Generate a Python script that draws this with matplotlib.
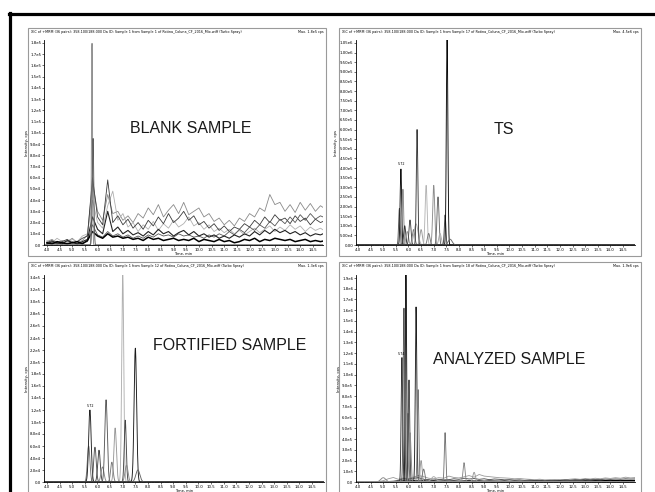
import matplotlib

matplotlib.use("Agg")
import matplotlib.pyplot as plt
import numpy as np

W, H = 655, 492

# time grid (min) of the hand-read noise traces
noise_t = np.round(np.arange(4.0, 15.01, 0.2), 1)

# BLANK SAMPLE: noise traces, in 1e3 cps
blank_a = [3, 5, 2, 4, 3, 6, 2, 4,
           9, 55, 30, 22, 45, 28, 30, 22, 26, 20,
           28, 24, 33, 27, 36, 25, 31, 36, 28, 38,
           27, 30, 33, 25, 28, 21, 24, 18, 22, 17,
           24, 21, 28, 25, 33, 30, 45, 36, 38, 30,
           36, 29, 38, 31, 37, 30, 35, 32]
blank_b = [2, 4, 1, 3, 5, 2, 3, 6,
           8, 60, 25, 18, 58, 20, 26, 18, 23, 15,
           20, 14, 22, 17, 25, 19, 28, 20, 24, 30,
           22, 26, 18, 21, 15, 19, 13, 17, 12, 16,
           14, 19, 16, 22, 18, 25, 20, 27, 22, 24,
           19, 26, 21, 24, 18, 23, 20, 22]
blank_c = [4, 2, 6, 3, 2, 5, 3, 8,
           10, 40, 20, 15, 35, 48, 22, 28, 16, 20,
           12, 18, 14, 21, 13, 19, 15, 22, 16, 19,
           25, 17, 20, 14, 18, 12, 15, 11, 14, 10,
           13, 9, 12, 15, 11, 14, 17, 12, 16, 13,
           18, 14, 17, 12, 16, 13, 15, 12]
blank_d = [1, 3, 2, 1, 4, 2, 1, 3,
           5, 25, 14, 10, 30, 12, 16, 10, 13, 9,
           11, 8, 12, 9, 14, 10, 12, 8, 11, 13,
           9, 12, 8, 10, 7, 9, 6, 8, 6, 9,
           7, 10, 8, 12, 9, 13, 10, 14, 11, 13,
           10, 12, 9, 11, 8, 10, 9, 11]
blank_e = [2, 1, 3, 2, 1, 2, 3, 1,
           4, 12, 8, 6, 10, 7, 8, 6, 7, 5,
           6, 4, 7, 5, 6, 4, 5, 6, 4, 5,
           4, 6, 3, 5, 4, 3, 5, 3, 4, 2,
           3, 5, 4, 6, 3, 5, 4, 6, 5, 4,
           5, 3, 4, 5, 3, 4, 3, 4]
blank_f = [1, 2, 1, 2, 1, 3, 1, 2,
           3, 18, 9, 7, 12, 8, 10, 7, 9, 6,
           8, 6, 9, 7, 10, 8, 9, 7, 10, 8,
           9, 7, 8, 6, 9, 7, 10, 8, 12, 9,
           14, 11, 16, 13, 18, 15, 21, 17, 23, 19,
           25, 20, 27, 22, 28, 23, 26, 24]
blank_rt = [5.78, 5.82]
blank_height = [180000, 95000]
blank_sigma = [0.02, 0.03]

# TS
ts_rt = [5.64, 5.70, 5.78, 5.85, 5.95, 6.06, 6.20, 6.30, 6.34, 6.50, 6.70,
         6.80, 7.00, 7.17, 7.25, 7.45, 7.53, 7.65]
ts_height = [190000, 395000, 290000, 100000, 70000, 130000, 80000, 110000,
             600000, 80000, 310000, 60000, 310000, 250000, 60000, 156000,
             1100000, 30000]
ts_sigma = [0.03, 0.03, 0.03, 0.04, 0.05, 0.04, 0.05, 0.08, 0.03, 0.05,
            0.04, 0.05, 0.04, 0.04, 0.05, 0.03, 0.03, 0.08]

# FORTIFIED SAMPLE
fort_rt = [5.65, 5.70, 5.90, 6.06, 6.20, 6.34, 6.57, 6.70, 7.00, 7.10, 7.15,
           7.50, 7.60]
fort_height = [60000, 120000, 58000, 53000, 25000, 137000, 33000, 90000,
               350000, 103000, 28000, 223000, 20000]
fort_sigma = [0.05, 0.05, 0.05, 0.05, 0.06, 0.05, 0.05, 0.05, 0.04, 0.04,
              0.06, 0.05, 0.08]

# ANALYZED SAMPLE
anal_rt = [5.00, 5.74, 5.82, 5.90, 5.98, 6.02, 6.06, 6.30, 6.38, 6.50, 6.60,
           7.00, 7.45, 8.20, 8.60]
anal_height = [40000, 1160000, 1620000, 1950000, 640000, 950000, 460000,
               1630000, 860000, 200000, 120000, 50000, 460000, 180000, 90000]
anal_sigma = [0.10, 0.03, 0.03, 0.025, 0.03, 0.03, 0.04, 0.03, 0.03, 0.04,
              0.05, 0.10, 0.03, 0.04, 0.05]
anal_a = [0, 1, 2, 1, 3, 12, 30, 42,
          25, 38, 30, 45, 60, 50, 35, 30, 40, 35,
          55, 42, 38, 48, 60, 45, 70, 55, 50, 45,
          40, 38, 35, 30, 33, 28, 25, 22, 26, 20,
          22, 18, 24, 20, 26, 30, 25, 32, 28, 35,
          30, 38, 33, 40, 35, 45, 38, 42]
anal_b = [0, 0, 1, 0, 1, 3, 5, 8,
          15, 30, 25, 35, 40, 25, 22, 18, 25, 20,
          22, 30, 25, 35, 28, 32, 25, 30, 22, 28,
          25, 20, 22, 18, 20, 15, 18, 14, 16, 12,
          15, 18, 14, 20, 17, 22, 19, 25, 21, 24,
          22, 27, 24, 28, 25, 30, 27, 29]
anal_c = [0, 0, 0, 0, 1, 1, 2, 2,
          5, 10, 8, 12, 9, 11, 8, 10, 7, 9,
          8, 10, 7, 9, 11, 8, 10, 7, 9, 8,
          7, 9, 6, 8, 7, 5, 8, 6, 7, 5,
          6, 8, 7, 9, 8, 10, 9, 11, 10, 12,
          11, 13, 12, 14, 12, 15, 13, 14]

x_ticks = np.round(np.arange(4.0, 14.51, 0.5), 1)

# trace colours (one per peak, same order as the tables above)
blank_colors = ["#8a8a8a", "#5a5a5a"]
ts_colors = ["#555555", "#111111", "#8a8a8a", "#333333", "#999999", "#444444",
             "#777777", "#aaaaaa", "#3c3c3c", "#999999", "#b5b5b5", "#777777",
             "#8c8c8c", "#666666", "#aaaaaa", "#444444", "#0a0a0a", "#666666"]
fort_colors = ["#777777", "#222222", "#555555", "#444444", "#888888", "#5a5a5a",
               "#777777", "#999999", "#b0b0b0", "#444444", "#888888", "#1a1a1a",
               "#666666"]
anal_colors = ["#888888", "#333333", "#555555", "#111111", "#666666", "#444444",
               "#888888", "#222222", "#777777", "#999999", "#777777", "#aaaaaa",
               "#777777", "#888888", "#999999"]


def fig_rect(x0, y0, x1, y1):
    return [x0 / W, 1 - y1 / H, (x1 - x0) / W, (y1 - y0) / H]


def fmt(v, digits):
    if v == 0:
        return "0." + "0" * digits
    m, e = f"{v:.{digits}e}".split("e")
    return f"{m}e{int(e)}"


def panel(fig, box, area, x4, px_per_min, y0_px, ytop_px, ytop, ystep, digits,
          header, maxtxt, label, label_xy):
    bx0, by0, bx1, by1 = box
    fig.add_artist(plt.Rectangle((bx0 / W, 1 - by1 / H), (bx1 - bx0) / W, (by1 - by0) / H,
                                 transform=fig.transFigure, fill=False, ec="#9a9a9a", lw=0.8))
    ax0, ay0, ax1 = area
    ax = fig.add_axes(fig_rect(ax0, ay0, ax1, y0_px))
    ax.set_xlim(4 - (x4 - ax0) / px_per_min, 4 + (ax1 - x4) / px_per_min)
    ax.set_ylim(0, ytop * (y0_px - ay0) / (y0_px - ytop_px))
    for s in ["top", "right"]:
        ax.spines[s].set_visible(False)
    for s in ["left", "bottom"]:
        ax.spines[s].set_linewidth(0.6)
    yt = np.arange(0, ytop + ystep / 2, ystep)
    ax.set_yticks(yt)
    ax.set_yticklabels([fmt(v, digits) for v in yt])
    ax.set_xticks(x_ticks)
    ax.set_xticklabels([f"{v:.1f}" for v in x_ticks])
    ax.set_xticks(np.arange(4.0, 15.0, 0.1), minor=True)
    ax.tick_params(length=1.5, width=0.4, labelsize=2.8, pad=0.6)
    ax.tick_params(which="minor", length=0.8, width=0.3)
    ax.set_xlabel("Time, min", fontsize=2.6, labelpad=0.1)
    ax.set_ylabel("Intensity, cps", fontsize=2.8, labelpad=1)
    fig.text((bx0 + 3) / W, 1 - (by0 + 2) / H, header, fontsize=2.4, va="top", ha="left")
    fig.text((bx1 - 2) / W, 1 - (by0 + 2) / H, maxtxt, fontsize=2.4, va="top", ha="right")
    fig.text(label_xy[0] / W, 1 - label_xy[1] / H, label, fontsize=11.5,
             family="Liberation Sans", color="#1a1a1a", ha="center", va="center")
    return ax


def draw_peaks(ax, rts, heights, sigmas, colors):
    tt = np.linspace(3.8, 15.2, 4000)
    for rt, h, s, c in zip(rts, heights, sigmas, colors):
        ax.plot(tt, h * np.exp(-0.5 * ((tt - rt) / s) ** 2), color=c, lw=0.65)


def draw_noise(ax, traces, colors, lws):
    for tr, c, lw in zip(traces, colors, lws):
        ax.plot(noise_t, np.array(tr) * 1e3, color=c, lw=lw)


fig = plt.figure(figsize=(W / 100, H / 100), dpi=100)

# outer frame
fig.add_artist(plt.Line2D([10 / W, 10 / W], [0, 1 - 13 / H], transform=fig.transFigure,
                          color="black", lw=2.3))
fig.add_artist(plt.Line2D([9 / W, 1], [1 - 14 / H, 1 - 14 / H], transform=fig.transFigure,
                          color="black", lw=2.3))

hdr = "XIC of +MRM (36 pairs): 358.100/188.000 Da ID: Sample 1 from Sample {} of Rotina_Coluna_CF_2016_Mix.wiff (Turbo Spray)"

ax = panel(fig, (28, 28, 326, 256), (44, 40, 323), 47, 26.0, 245, 43, 180000, 10000, 1,
           hdr.format(1), "Max. 1.8e5 cps", "BLANK SAMPLE", (191, 128))
draw_noise(ax, [blank_a, blank_c, blank_b, blank_f, blank_d, blank_e],
           ["#8a8a8a", "#b0b0b0", "#3a3a3a", "#555555", "#222222", "#000000"],
           [0.6, 0.6, 0.6, 0.6, 0.8, 1.1])
draw_peaks(ax, blank_rt, blank_height, blank_sigma, blank_colors)

ax = panel(fig, (339, 28, 641, 256), (356, 40, 635), 358, 25.24, 245, 43, 1050000, 50000, 2,
           hdr.format(17), "Max. 4.5e6 cps", "TS", (504, 130))
draw_peaks(ax, ts_rt, ts_height, ts_sigma, ts_colors)
ax.axhline(0, color="black", lw=1.0)
ax.text(5.72, 4.1e5, "5.72", fontsize=2.4, ha="center", va="bottom")

ax = panel(fig, (28, 262, 326, 500), (44, 275, 324), 47, 25.24, 482, 278, 340000, 20000, 1,
           hdr.format(12), "Max. 1.3e6 cps", "FORTIFIED SAMPLE", (230, 345))
draw_peaks(ax, fort_rt, fort_height, fort_sigma, fort_colors)
ax.axhline(0, color="black", lw=1.0)
ax.text(5.72, 1.23e5, "5.72", fontsize=2.4, ha="center", va="bottom")

ax = panel(fig, (339, 262, 641, 500), (356, 275, 635), 358, 25.24, 482, 278, 1900000, 100000, 1,
           hdr.format(18), "Max. 1.9e6 cps", "ANALYZED SAMPLE", (509, 359))
draw_noise(ax, [anal_a, anal_b, anal_c], ["#9a9a9a", "#444444", "#000000"], [0.6, 0.6, 0.9])
draw_peaks(ax, anal_rt, anal_height, anal_sigma, anal_colors)
ax.text(5.74, 1.17e6, "5.74", fontsize=2.4, ha="center", va="bottom")

fig.savefig("out.png", dpi=100)
